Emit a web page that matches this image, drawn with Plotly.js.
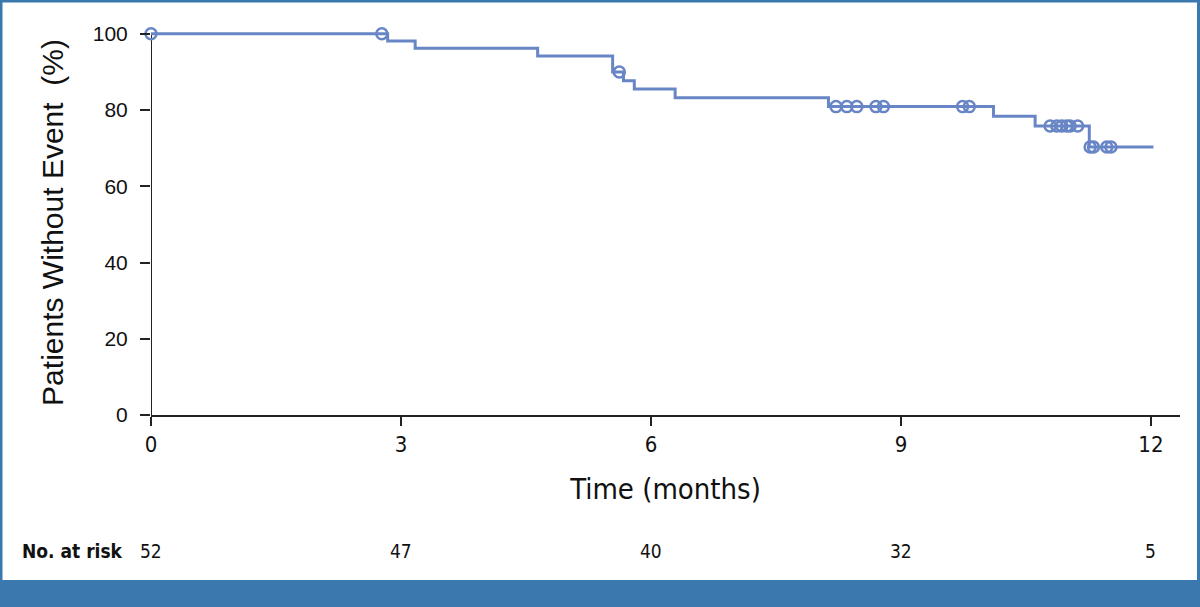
<!DOCTYPE html>
<html>
<head>
<meta charset="utf-8">
<script src="https://cdn.plot.ly/plotly-3.0.1.min.js"></script>
<style>
  body { margin: 0; background: #fff; }
  #myDiv { width: 1200px; height: 607px; }
</style>
</head>
<body>
<div id="myDiv"></div>
<script>
// KM step curve
var stepTimes = [0, 2.84, 3.17, 4.64, 5.54, 5.67, 5.80, 6.29, 8.13, 10.11, 10.61, 11.26, 12.03];
var stepSurv  = [100, 98.1, 96.2, 94.2, 90.0, 87.7, 85.5, 83.2, 80.9, 78.4, 75.8, 70.3, 70.3];

// censored patients
var censorTimes = [0, 2.77, 5.62, 8.22, 8.35, 8.47, 8.70, 8.79, 9.74, 9.82,
                   10.79, 10.87, 10.93, 10.99, 11.03, 11.12, 11.27, 11.31, 11.47, 11.52];
var censorSurv  = [100, 100, 90.0, 80.9, 80.9, 80.9, 80.9, 80.9, 80.9, 80.9,
                   75.8, 75.8, 75.8, 75.8, 75.8, 75.8, 70.3, 70.3, 70.3, 70.3];

var riskTimes = [0, 3, 6, 9, 12];
var riskCounts = ['52', '47', '40', '32', '5'];

var lineColor = 'rgb(104, 133, 198)';
var frameColor = 'rgb(58, 120, 174)';
var narrow = { family: 'DejaVu Sans Condensed, DejaVu Sans', stretch: 'condensed', color: '#111' };

var W = 1200, H = 607;
var mL = 151, mR = 20, mT = 30, mB = 192;
var plotW = W - mL - mR, plotH = H - mT - mB;

function px(x) { return (x - mL) / plotW; }
function py(y) { return (H - mB - y) / plotH; }

var curve = {
  x: stepTimes,
  y: stepSurv,
  type: 'scatter',
  mode: 'lines',
  line: { shape: 'hv', color: lineColor, width: 3 },
  cliponaxis: false,
  hoverinfo: 'skip'
};

var censors = {
  x: censorTimes,
  y: censorSurv,
  type: 'scatter',
  mode: 'markers',
  marker: { symbol: 'circle-open', size: 11, color: lineColor, line: { width: 2.5, color: lineColor } },
  cliponaxis: false,
  hoverinfo: 'skip'
};

var annotations = [];
for (let i = 0; i < riskTimes.length; i++) {
  annotations.push({
    x: riskTimes[i], xref: 'x',
    y: py(551), yref: 'paper',
    text: riskCounts[i], showarrow: false,
    xanchor: 'center', yanchor: 'middle',
    font: Object.assign({ size: 19 }, narrow)
  });
}
annotations.push({
  x: px(20), xref: 'paper',
  y: py(551), yref: 'paper',
  text: '<b>No. at risk</b>', showarrow: false,
  xanchor: 'left', yanchor: 'middle',
  font: Object.assign({ size: 19 }, narrow)
});

var shapes = [
  // outer frame
  { type: 'rect', xref: 'paper', yref: 'paper',
    x0: px(1), x1: px(W - 1.5), y0: py(H), y1: py(1),
    line: { color: frameColor, width: 3 }, fillcolor: 'rgba(0,0,0,0)', layer: 'below' },
  // bottom band
  { type: 'rect', xref: 'paper', yref: 'paper',
    x0: px(0), x1: px(W), y0: py(H), y1: py(580),
    line: { width: 0 }, fillcolor: frameColor, layer: 'below' },
  // y axis line, stops at 100
  { type: 'line', xref: 'x', yref: 'y', x0: 0, x1: 0, y0: 0, y1: 100,
    line: { color: '#222', width: 2 }, layer: 'below' }
];

var layout = {
  width: W, height: H,
  margin: { l: mL, r: mR, t: mT, b: mB, pad: 0 },
  paper_bgcolor: '#fff',
  plot_bgcolor: '#fff',
  showlegend: false,
  xaxis: {
    range: [0, plotW / 83.33],
    tickvals: [0, 3, 6, 9, 12],
    ticks: 'outside', ticklen: 9, tickwidth: 2, tickcolor: '#222',
    showline: true, linecolor: '#222', linewidth: 2,
    showgrid: false, zeroline: false,
    tickfont: Object.assign({ size: 22 }, narrow),
    title: { text: 'Time (months)', standoff: 22,
             font: Object.assign({ size: 29 }, narrow) }
  },
  yaxis: {
    range: [0, 101],
    tickvals: [0, 20, 40, 60, 80, 100],
    ticks: 'outside', ticklen: 10, tickwidth: 2, tickcolor: '#222',
    ticklabelstandoff: 8,
    showline: false,
    showgrid: false, zeroline: false,
    tickfont: { family: 'Liberation Sans', size: 21, color: '#111' },
    title: { text: 'Patients Without Event  (%)', standoff: 20,
             font: { family: 'Liberation Sans', size: 30, color: '#111' } }
  },
  annotations: annotations,
  shapes: shapes
};

Plotly.newPlot('myDiv', [curve, censors], layout, { displayModeBar: false, staticPlot: true });
</script>
</body>
</html>
